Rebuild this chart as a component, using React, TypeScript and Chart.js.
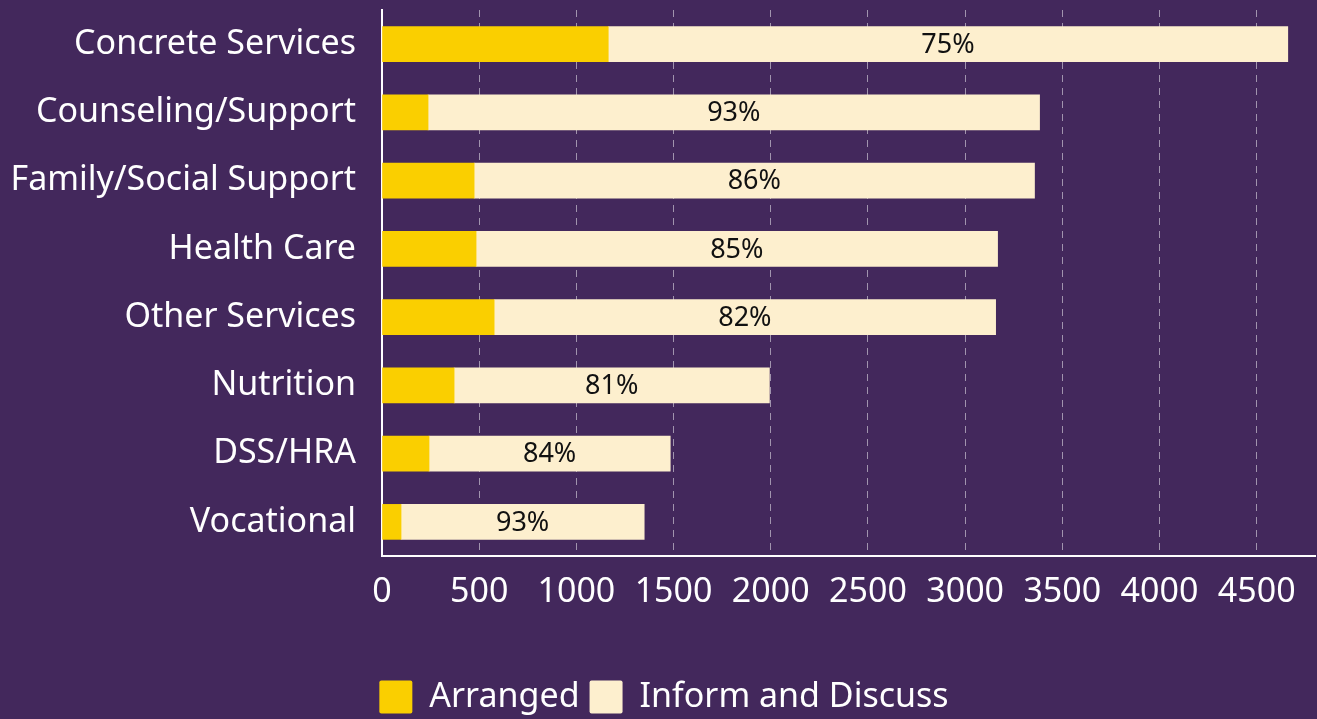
import React, { useEffect, useRef } from "react";
import { Chart, registerables } from "chart.js";

Chart.register(...registerables);

const categories = [
  "Concrete Services",
  "Counseling/Support",
  "Family/Social Support",
  "Health Care",
  "Other Services",
  "Nutrition",
  "DSS/HRA",
  "Vocational",
];
const arranged = [1164, 237, 474, 484, 577, 371, 242, 98];
const informDiscuss = [3496, 3146, 2883, 2683, 2580, 1622, 1241, 1251];
const pctLabels = ["75%", "93%", "86%", "85%", "82%", "81%", "84%", "93%"];
const seriesNames = ["Arranged", "Inform and Discuss"];
const xTicks = [0, 500, 1000, 1500, 2000, 2500, 3000, 3500, 4000, 4500];
const xMax = 4800;

const BG = "#43285C";
const YELLOW = "#FACF00";
const CREAM = "#FDEFCE";
const FONT = "'Noto Sans', 'Open Sans', sans-serif";

const barLabelPlugin = {
  id: "barLabels",
  afterDatasetsDraw(chart: any) {
    const ctx = chart.ctx;
    const meta = chart.getDatasetMeta(1);
    ctx.save();
    ctx.font = `27px ${FONT}`;
    ctx.fillStyle = "#111111";
    ctx.textAlign = "center";
    ctx.textBaseline = "middle";
    meta.data.forEach((bar: any, i: number) => {
      const cx = (bar.x + bar.base) / 2;
      ctx.fillText(pctLabels[i], cx, bar.y + 1);
    });
    ctx.restore();
  },
};

export default function App() {
  const ref = useRef<HTMLCanvasElement | null>(null);
  useEffect(() => {
    if (!ref.current) return;
    const chart = new Chart(ref.current, {
      type: "bar",
      data: {
        labels: categories,
        datasets: [
          {
            label: seriesNames[0],
            data: arranged,
            backgroundColor: YELLOW,
            borderWidth: 0,
            barThickness: 35,
          },
          {
            label: seriesNames[1],
            data: informDiscuss,
            backgroundColor: CREAM,
            borderWidth: 0,
            barThickness: 35,
          },
        ],
      },
      options: {
        indexAxis: "y",
        responsive: false,
        animation: false,
        layout: { padding: { top: 10, right: 2, left: 13, bottom: -5 } },
        plugins: {
          tooltip: { enabled: false },
          legend: {
            position: "bottom",
            labels: {
              color: "#FFFFFF",
              font: { family: FONT, size: 34 },
              boxWidth: 33,
              boxHeight: 33,
              padding: 10,
              useBorderRadius: true,
              borderRadius: 2,
            },
          },
        },
        scales: {
          x: {
            stacked: true,
            min: 0,
            max: xMax,
            afterBuildTicks: (s: any) => {
              s.ticks = xTicks.map((v) => ({ value: v }));
            },
            afterFit: (s: any) => {
              s.height = 114;
            },
            ticks: {
              color: "#FFFFFF",
              font: { family: FONT, size: 34 },
              padding: 16,
              maxRotation: 0,
              autoSkip: false,
              callback: (v: any) => String(v),
            },
            grid: {
              drawTicks: false,
              color: (c: any) =>
                c.tick && c.tick.value === 0 ? "rgba(0,0,0,0)" : "rgba(255,255,255,0.5)",
              lineWidth: 1,
            },
            border: { display: true, color: "#FFFFFF", width: 2, dash: [7, 6] },
          },
          y: {
            stacked: true,
            afterFit: (s: any) => {
              s.width = 369;
              s.paddingTop = 0;
              s.paddingBottom = 0;
            },
            ticks: {
              color: "#FFFFFF",
              font: { family: FONT, size: 34 },
              padding: 26,
              autoSkip: false,
            },
            grid: { display: false, drawTicks: false },
            border: { display: true, color: "#FFFFFF", width: 2 },
          },
        },
      },
      plugins: [barLabelPlugin],
    });
    return () => chart.destroy();
  }, []);

  return (
    <div
      style={{
        position: "absolute",
        left: 0,
        top: 0,
        width: 1317,
        height: 719,
        background: BG,
        overflow: "hidden",
      }}
    >
      <canvas ref={ref} width={1317} height={719} style={{ display: "block" }} />
    </div>
  );
}
